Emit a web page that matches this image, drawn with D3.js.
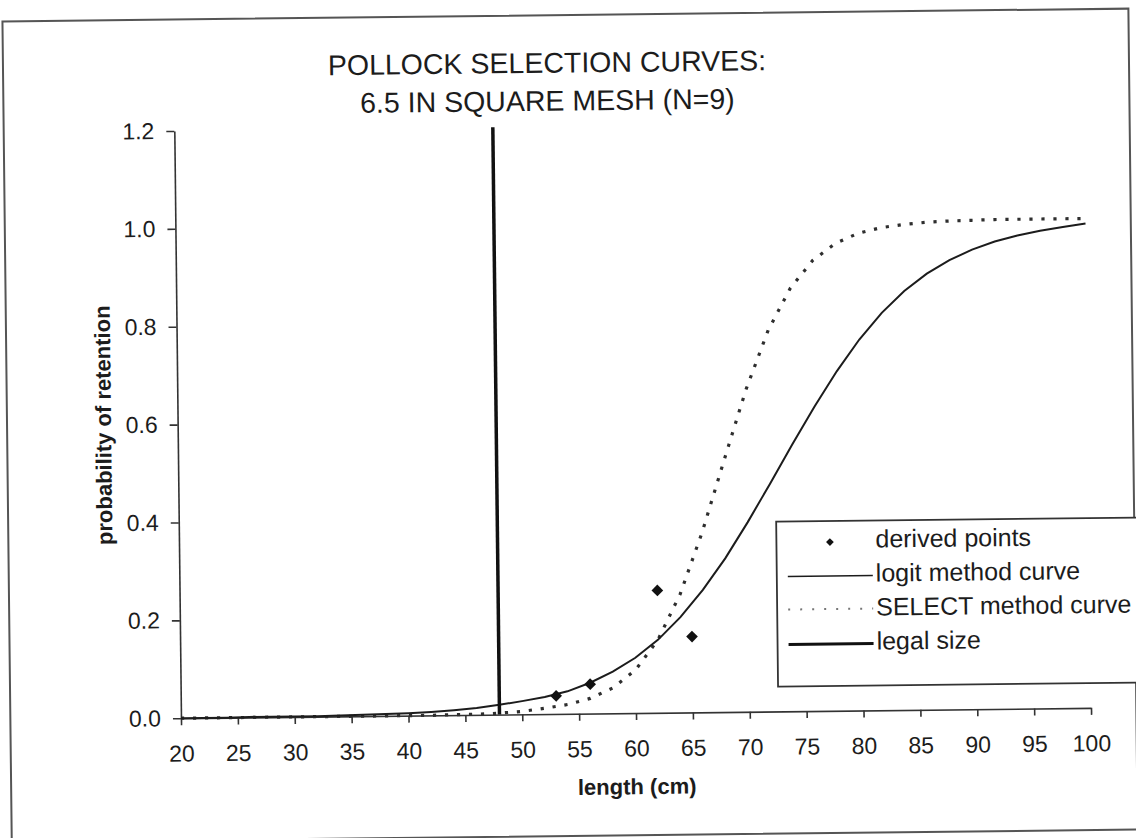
<!DOCTYPE html>
<html>
<head>
<meta charset="utf-8">
<script src="https://cdn.jsdelivr.net/npm/d3@7"></script>
<style>
  html, body { margin: 0; padding: 0; background: #fff; }
  svg { display: block; }
  text { font-family: "Liberation Sans", Arial, sans-serif; }
</style>
</head>
<body>
<svg id="chart" width="1136" height="838"></svg>
<script>
// ---- data -------------------------------------------------------------
const titleLines = ["POLLOCK SELECTION CURVES:", "6.5 IN SQUARE MESH (N=9)"];

// fish length (cm) at which both fitted curves are tabulated
const lengths = [20, 22, 24, 26, 28, 30, 32, 34, 36, 38, 40, 42, 44, 46, 48, 50, 52, 54, 56, 58,
                 60, 62, 64, 66, 68, 70, 72, 74, 76, 78, 80, 82, 84, 86, 88, 90, 92, 94, 96, 98, 100];

// probability of retention, logit fit
const logitCurve = [0.000, 0.000, 0.000, 0.001, 0.001, 0.001, 0.001, 0.002, 0.003, 0.004,
                    0.005, 0.007, 0.010, 0.014, 0.020, 0.027, 0.035, 0.046, 0.063, 0.085,
                    0.113, 0.149, 0.195, 0.250, 0.314, 0.387, 0.465, 0.545, 0.622, 0.694,
                    0.758, 0.812, 0.856, 0.891, 0.918, 0.939, 0.955, 0.967, 0.976, 0.983, 0.990];

// probability of retention, SELECT fit
const selectCurve = [0.000, 0.000, 0.000, 0.000, 0.000, 0.000, 0.000, 0.000, 0.000, 0.000,
                     0.000, 0.000, 0.001, 0.001, 0.003, 0.006, 0.012, 0.019, 0.031, 0.052,
                     0.088, 0.149, 0.242, 0.368, 0.515, 0.659, 0.779, 0.865, 0.921, 0.955,
                     0.975, 0.986, 0.992, 0.996, 0.998, 0.999, 1.000, 1.000, 1.000, 1.000, 1.000];

// points derived from the catch comparison
const derivedLengths = [53, 56, 62, 65];
const derivedValues  = [0.037, 0.060, 0.250, 0.155];

const legalSize = 48;

const xTicks = [20, 25, 30, 35, 40, 45, 50, 55, 60, 65, 70, 75, 80, 85, 90, 95, 100];
const yTicks = [0.0, 0.2, 0.4, 0.6, 0.8, 1.0, 1.2];

const legendLabels = ["derived points", "logit method curve", "SELECT method curve", "legal size"];

// ---- layout -----------------------------------------------------------
const W = 1136, H = 838;
const plot = { left: 177.6, right: 1087.7, top: 126.5, bottom: 713.8 };

const svg = d3.select("#chart");
svg.append("rect").attr("width", W).attr("height", H).attr("fill", "#fff");

// the whole page sits very slightly tilted
const page = svg.append("g").attr("transform", "rotate(-0.65 568 419)");

const x = d3.scaleLinear().domain([20, 100]).range([plot.left, plot.right]);
const y = d3.scaleLinear().domain([0, 1.2]).range([plot.bottom, plot.top]);

const ink = "#1c1c1c";

// outer frame
page.append("rect")
  .attr("x", 7).attr("y", 15).attr("width", 1126).attr("height", 821)
  .attr("fill", "none").attr("stroke", "#555").attr("stroke-width", 2);

// title
page.append("g").selectAll("text")
  .data(titleLines)
  .join("text")
  .attr("x", 551)
  .attr("y", (d, i) => 72.5 + i * 38)
  .attr("text-anchor", "middle")
  .attr("font-size", 28.5)
  .attr("fill", ink)
  .text(d => d);

// axes
const xAxis = d3.axisBottom(x)
  .tickValues(xTicks)
  .tickSize(7)
  .tickSizeOuter(0)
  .tickPadding(20)
  .tickFormat(d3.format("d"));

const yAxis = d3.axisLeft(y)
  .tickValues(yTicks)
  .tickSize(8)
  .tickSizeOuter(0)
  .tickPadding(12)
  .tickFormat(d3.format(".1f"));

function styleAxis(g) {
  g.attr("font-family", null).attr("font-size", null);
  g.selectAll(".domain").attr("stroke", "#333").attr("stroke-width", 1.6);
  g.selectAll(".tick line").attr("stroke", "#333").attr("stroke-width", 1.6);
  g.selectAll(".tick text").attr("font-size", 23).attr("fill", ink);
}

page.append("g")
  .attr("transform", `translate(0,${y(0)})`)
  .call(xAxis)
  .call(styleAxis);

page.append("g")
  .attr("transform", `translate(${x(20)},0)`)
  .call(yAxis)
  .call(styleAxis);

// axis titles
page.append("text")
  .attr("x", 633).attr("y", 795)
  .attr("text-anchor", "middle")
  .attr("font-size", 22).attr("font-weight", "bold")
  .attr("fill", ink)
  .text("length (cm)");

page.append("text")
  .attr("transform", "translate(111,420) rotate(-90)")
  .attr("text-anchor", "middle")
  .attr("font-size", 22).attr("font-weight", "bold")
  .attr("fill", ink)
  .text("probability of retention");

// curves
const logitData  = lengths.map((L, i) => ({ L, p: logitCurve[i] }));
const selectData = lengths.map((L, i) => ({ L, p: selectCurve[i] }));
const line = d3.line().x(d => x(d.L)).y(d => y(d.p));

page.append("path")
  .datum(selectData)
  .attr("d", line)
  .attr("fill", "none")
  .attr("stroke", "#2e2e2e")
  .attr("stroke-width", 3.2)
  .attr("stroke-dasharray", "3.2 8.8");

page.append("path")
  .datum(logitData)
  .attr("d", line)
  .attr("fill", "none")
  .attr("stroke", ink)
  .attr("stroke-width", 2);

// legal size marker
page.append("line")
  .attr("x1", x(legalSize)).attr("x2", x(legalSize))
  .attr("y1", y(0)).attr("y2", y(1.2))
  .attr("stroke", "#111")
  .attr("stroke-width", 3.5);

// derived points
const diamond = d3.symbol().type(d3.symbolSquare).size(68);
page.append("g").selectAll("path")
  .data(derivedLengths.map((L, i) => ({ L, p: derivedValues[i] })))
  .join("path")
  .attr("d", diamond)
  .attr("transform", d => `translate(${x(d.L)},${y(d.p)}) rotate(45)`)
  .attr("fill", "#111");

// legend
const legend = page.append("g");
legend.append("rect")
  .attr("x", 775).attr("y", 524).attr("width", 400).attr("height", 165)
  .attr("fill", "#fff").attr("stroke", "#333").attr("stroke-width", 1.8);

const rowY = i => 551 + i * 34;
const symX0 = 786, symX1 = 871, textX = 874;

legend.append("path")
  .attr("d", d3.symbol().type(d3.symbolSquare).size(30))
  .attr("transform", `translate(${(symX0 + symX1) / 2},${rowY(0) - 6}) rotate(45)`)
  .attr("fill", "#111");

legend.append("line")
  .attr("x1", symX0).attr("x2", symX1)
  .attr("y1", rowY(1) - 6).attr("y2", rowY(1) - 6)
  .attr("stroke", ink).attr("stroke-width", 1.6);

legend.append("line")
  .attr("x1", symX0).attr("x2", symX1)
  .attr("y1", rowY(2) - 7).attr("y2", rowY(2) - 7)
  .attr("stroke", "#777").attr("stroke-width", 2)
  .attr("stroke-dasharray", "2 10");

legend.append("line")
  .attr("x1", symX0).attr("x2", symX1)
  .attr("y1", rowY(3) - 6).attr("y2", rowY(3) - 6)
  .attr("stroke", "#111").attr("stroke-width", 3);

legend.selectAll("text.lbl")
  .data(legendLabels)
  .join("text")
  .attr("class", "lbl")
  .attr("x", textX)
  .attr("y", (d, i) => rowY(i))
  .attr("font-size", 25)
  .attr("fill", ink)
  .text(d => d);
</script>
</body>
</html>
